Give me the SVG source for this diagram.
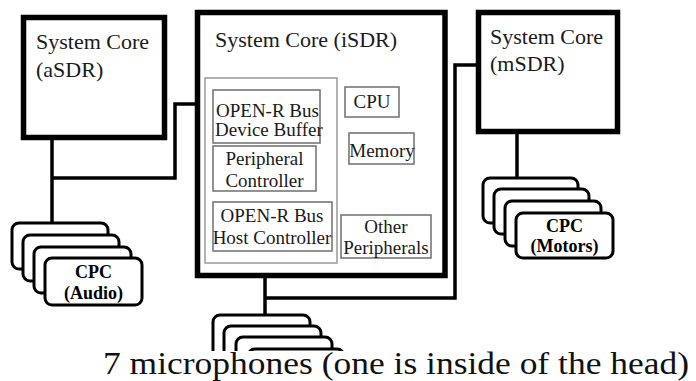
<svg xmlns="http://www.w3.org/2000/svg" width="696" height="381" viewBox="0 0 696 381">
<defs>
<style>
.core{fill:#fff;stroke:#000;stroke-width:5.5}
.inner{fill:#fff;stroke:#777;stroke-width:1.6}
.grp{fill:none;stroke:#999;stroke-width:1.5}
.cpc{fill:#fff;stroke:#000;stroke-width:3}
.wire{fill:none;stroke:#000;stroke-width:3.5}
text{font-family:'Liberation Serif','Times New Roman',serif;fill:#1a1a1a}
.big{font-size:22px}
.mid{font-size:19px}
.bold{font-size:18px;font-weight:bold;fill:#000}
.cap{font-size:31px;fill:#111}
</style>
</defs>
<rect width="696" height="381" fill="#fff"/>
<g id="connectors">
<polyline class="wire" points="52,140 52,225"/>
<polyline class="wire" points="52,178 175,178 175,104 215,104"/>
<polyline class="wire" points="265,246 265,317"/>
<polyline class="wire" points="265,298 455,298 455,65 478,65"/>
<polyline class="wire" points="517,134 517,180"/>
</g>
<g id="aSDR">
<rect class="core" x="23.5" y="17.5" width="141" height="120"/>
<text class="big" x="36" y="49">System Core</text>
<text class="big" x="36" y="77">(aSDR)</text>
</g>
<g id="mSDR">
<rect class="core" x="478.5" y="12.5" width="139" height="119"/>
<text class="big" x="490" y="44">System Core</text>
<text class="big" x="490" y="71">(mSDR)</text>
</g>
<g id="iSDR">
<rect class="core" x="197.5" y="12.5" width="247.5" height="263"/>
<text class="big" x="215" y="47">System Core (iSDR)</text>
<rect class="grp" x="205" y="78" width="132" height="185"/>
</g>
<g id="device-buffer">
<rect class="inner" x="213" y="90" width="107" height="53"/>
<text class="mid" x="216" y="117">OPEN-R Bus</text>
<text class="mid" x="215" y="136">Device Buffer</text>
</g>
<g id="peripheral-controller">
<rect class="inner" x="213" y="146" width="103" height="45"/>
<text class="mid" x="264.5" y="165" text-anchor="middle">Peripheral</text>
<text class="mid" x="264.5" y="187" text-anchor="middle">Controller</text>
</g>
<g id="host-controller">
<rect class="inner" x="213" y="202" width="119" height="49"/>
<text class="mid" x="272" y="222" text-anchor="middle">OPEN-R Bus</text>
<text class="mid" x="272" y="244" text-anchor="middle">Host Controller</text>
</g>
<g id="cpu">
<rect class="inner" x="345" y="87" width="54" height="30"/>
<text class="mid" x="372" y="108" text-anchor="middle">CPU</text>
</g>
<g id="memory">
<rect class="inner" x="349" y="133" width="65" height="31"/>
<text class="mid" x="382" y="157" text-anchor="middle">Memory</text>
</g>
<g id="other-peripherals">
<rect class="inner" x="341" y="215" width="90" height="43"/>
<text class="mid" x="386" y="233" text-anchor="middle">Other</text>
<text class="mid" x="386" y="254" text-anchor="middle">Peripherals</text>
</g>
<g id="cpc-audio">
<rect class="cpc" x="12" y="223" width="96" height="46" rx="7"/>
<rect class="cpc" x="23" y="235" width="96" height="46" rx="7"/>
<rect class="cpc" x="34" y="247" width="97" height="46" rx="7"/>
<rect class="cpc" x="45" y="258" width="97" height="47" rx="7"/>
<text class="bold" x="93.5" y="278" text-anchor="middle">CPC</text>
<text class="bold" x="93.5" y="299" text-anchor="middle">(Audio)</text>
</g>
<g id="cpc-motors">
<rect class="cpc" x="483" y="178" width="95" height="45" rx="7"/>
<rect class="cpc" x="494" y="189" width="95" height="45" rx="7"/>
<rect class="cpc" x="505" y="201" width="96" height="45" rx="7"/>
<rect class="cpc" x="516" y="213" width="97" height="45" rx="7"/>
<text class="bold" x="564.5" y="232" text-anchor="middle">CPC</text>
<text class="bold" x="564.5" y="252" text-anchor="middle">(Motors)</text>
</g>
<g id="microphones">
<rect class="cpc" x="213" y="315" width="97" height="46" rx="7"/>
<rect class="cpc" x="224" y="326" width="97" height="46" rx="7"/>
<rect class="cpc" x="236" y="337" width="96" height="46" rx="7"/>
<rect class="cpc" x="248" y="349" width="96" height="46" rx="7"/>
<rect x="0" y="351" width="696" height="30" fill="#fff"/>
<text class="cap" x="103" y="374" textLength="586" lengthAdjust="spacingAndGlyphs">7 microphones (one is inside of the head)</text>
</g>
</svg>
